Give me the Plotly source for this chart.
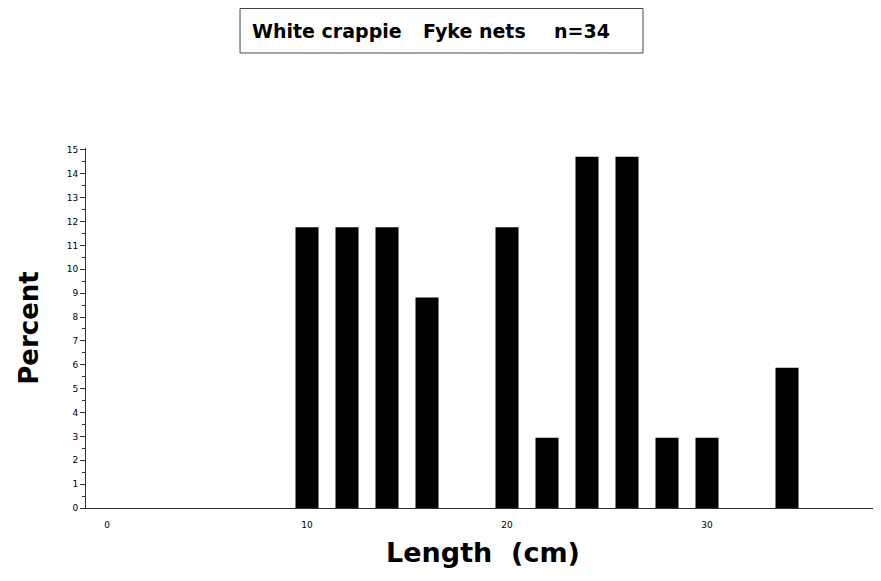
import plotly.graph_objects as go

# Length classes (cm) and percent of catch
lengths = [10, 12, 14, 16, 20, 22, 24, 26, 28, 30, 34]
percent = [11.76, 11.76, 11.76, 8.82, 11.76, 2.94, 14.71, 14.71, 2.94, 2.94, 5.88]
x_ticks = [0, 10, 20, 30]
y_ticks = list(range(0, 16))

# title pieces and where they sit (paper x)
title_parts = ['White crappie', 'Fyke nets', 'n=34']
title_xpos = [0.3029, 0.4899, 0.6253]

BOLD = 'DejaVu Sans'

fig = go.Figure(go.Bar(x=lengths, y=percent, width=1.15,
                       marker=dict(color='black', line=dict(width=0))))

# page body adds an 8px offset, so margins are pulled in by 8
fig.update_layout(
    width=881, height=581,
    margin=dict(l=78, r=9, t=140, b=81),
    plot_bgcolor='white', paper_bgcolor='white',
    font=dict(family=BOLD, color='black'),
    showlegend=False,
    shapes=[dict(type='rect', xref='paper', yref='paper',
                 x0=0.194, x1=0.7015, y0=1.2639, y1=1.3875,
                 line=dict(color='#444', width=1))],
    annotations=[dict(text='<b>%s</b>' % t, xref='paper', yref='paper', x=xp, y=1.325,
                      xanchor='center', yanchor='middle', showarrow=False,
                      font=dict(size=19, family=BOLD, color='black'))
                 for t, xp in zip(title_parts, title_xpos)],
)

fig.update_xaxes(
    range=[-1.05, 38.65], tickvals=x_ticks, ticks='', showgrid=False,
    showline=True, linecolor='#333', linewidth=1, zeroline=False,
    tickfont=dict(size=9), ticklabelstandoff=8, automargin=False,
    title=dict(text='<b>Length  (cm)</b>', font=dict(size=27), standoff=14))

fig.update_yaxes(
    range=[0, 15.08], tickvals=y_ticks, ticks='outside', ticklen=5, tickwidth=1,
    tickcolor='#333', showgrid=False, showline=True, linecolor='#333', linewidth=1,
    zeroline=False, tickfont=dict(size=9), automargin=False,
    minor=dict(dtick=0.5, ticks='outside', ticklen=3, tickcolor='#333', showgrid=False),
    title=dict(text='<b>Percent</b>', font=dict(size=26), standoff=20))

fig.write_html("out.html")
